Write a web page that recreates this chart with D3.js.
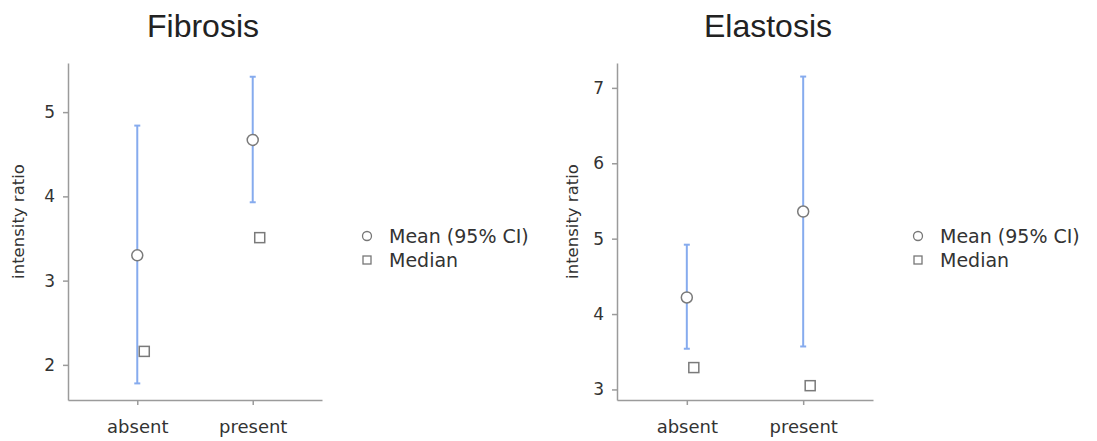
<!DOCTYPE html>
<html>
<head>
<meta charset="utf-8">
<script src="https://cdn.jsdelivr.net/npm/d3@7"></script>
<style>
  body { margin: 0; background: #fff; }
  svg { display: block; }
  .axis path, .axis line { stroke: #9b9b9b; stroke-width: 1.5; }
  .axis text { fill: #333; font-family: "DejaVu Sans", sans-serif; font-size: 17px; }
  .title { fill: #222; font-family: "Liberation Sans", Arial, sans-serif; font-size: 32px; }
  .ylabel { fill: #333; font-family: "DejaVu Sans", sans-serif; font-size: 16.5px; }
  .legend text { fill: #333; font-family: "DejaVu Sans", sans-serif; font-size: 19px; }
</style>
</head>
<body>
<div id="chart"></div>
<script>
var categories = ["absent", "present"];

var fibrosisMean = [3.30, 4.67];
var fibrosisLower = [1.78, 3.93];
var fibrosisUpper = [4.84, 5.42];
var fibrosisMedian = [2.16, 3.51];
var fibrosisTicks = [2, 3, 4, 5];

var elastosisMean = [4.22, 5.36];
var elastosisLower = [3.54, 3.57];
var elastosisUpper = [4.92, 7.15];
var elastosisMedian = [3.29, 3.05];
var elastosisTicks = [3, 4, 5, 6, 7];

var legendLabels = ["Mean (95% CI)", "Median"];

var W = 1097, H = 441;
var svg = d3.select("#chart").append("svg")
    .attr("width", W)
    .attr("height", H);

var panels = [
  { title: "Fibrosis", mean: fibrosisMean, lower: fibrosisLower, upper: fibrosisUpper,
    median: fibrosisMedian, ticks: fibrosisTicks, domain: [1.583, 5.583],
    left: 68, right: 322, top: 63, bottom: 400, titleX: 203, labelX: 18, legendX: 367 },
  { title: "Elastosis", mean: elastosisMean, lower: elastosisLower, upper: elastosisUpper,
    median: elastosisMedian, ticks: elastosisTicks, domain: [2.86, 7.33],
    left: 617, right: 873, top: 63, bottom: 400, titleX: 768, labelX: 572, legendX: 918 }
];

panels.forEach(function(p) {
  var x = d3.scalePoint()
      .domain(categories)
      .range([p.left, p.right])
      .padding(0.6);
  var y = d3.scaleLinear()
      .domain(p.domain)
      .range([p.bottom, p.top]);

  var rows = categories.map(function(c, i) {
    return { cat: c, mean: p.mean[i], lo: p.lower[i], hi: p.upper[i], med: p.median[i] };
  });

  svg.append("text")
    .attr("class", "title")
    .attr("x", p.titleX)
    .attr("y", 37)
    .attr("text-anchor", "middle")
    .text(p.title);

  svg.append("g")
    .attr("class", "axis")
    .attr("transform", "translate(" + p.left + ",0)")
    .call(d3.axisLeft(y).tickValues(p.ticks).tickFormat(d3.format("d"))
      .tickSize(5).tickSizeOuter(0).tickPadding(8));

  svg.append("g")
    .attr("class", "axis")
    .attr("transform", "translate(0," + p.bottom + ")")
    .call(d3.axisBottom(x).tickSize(5).tickSizeOuter(0).tickPadding(15))
    .selectAll("text").style("font-size", "18px");

  svg.append("text")
    .attr("class", "ylabel")
    .attr("transform", "translate(" + p.labelX + "," + ((p.top + p.bottom) / 2 - 10) + ") rotate(-90)")
    .attr("text-anchor", "middle")
    .attr("dy", "0.35em")
    .text("intensity ratio");

  // error bars
  var g = svg.append("g");
  g.selectAll("line.ci")
    .data(rows)
    .enter().append("line")
    .attr("class", "ci")
    .attr("x1", function(d) { return x(d.cat); })
    .attr("x2", function(d) { return x(d.cat); })
    .attr("y1", function(d) { return y(d.lo); })
    .attr("y2", function(d) { return y(d.hi); })
    .attr("stroke", "#86abee")
    .attr("stroke-width", 2);

  ["lo", "hi"].forEach(function(k) {
    g.selectAll("line.cap-" + k)
      .data(rows)
      .enter().append("line")
      .attr("class", "cap-" + k)
      .attr("x1", function(d) { return x(d.cat) - 3; })
      .attr("x2", function(d) { return x(d.cat) + 3; })
      .attr("y1", function(d) { return y(d[k]); })
      .attr("y2", function(d) { return y(d[k]); })
      .attr("stroke", "#86abee")
      .attr("stroke-width", 2);
  });

  g.selectAll("circle.mean")
    .data(rows)
    .enter().append("circle")
    .attr("class", "mean")
    .attr("cx", function(d) { return x(d.cat); })
    .attr("cy", function(d) { return y(d.mean); })
    .attr("r", 5.5)
    .attr("fill", "#fff")
    .attr("stroke", "#7a7a7a")
    .attr("stroke-width", 1.5);

  g.selectAll("rect.median")
    .data(rows)
    .enter().append("rect")
    .attr("class", "median")
    .attr("x", function(d) { return x(d.cat) + 7 - 5; })
    .attr("y", function(d) { return y(d.med) - 5; })
    .attr("width", 10)
    .attr("height", 10)
    .attr("fill", "#fff")
    .attr("stroke", "#7a7a7a")
    .attr("stroke-width", 1.5);

  // legend
  var lg = svg.append("g")
    .attr("class", "legend")
    .attr("transform", "translate(" + p.legendX + ",236)");
  lg.append("circle")
    .attr("cx", 0).attr("cy", 0).attr("r", 4.5)
    .attr("fill", "#fff").attr("stroke", "#777").attr("stroke-width", 1.3);
  lg.append("rect")
    .attr("x", -4).attr("y", 20).attr("width", 8).attr("height", 8)
    .attr("fill", "#fff").attr("stroke", "#777").attr("stroke-width", 1.3);
  lg.selectAll("text")
    .data(legendLabels)
    .enter().append("text")
    .attr("x", 22)
    .attr("y", function(d, i) { return 7 + i * 24; })
    .text(function(d) { return d; });
});
</script>
</body>
</html>
